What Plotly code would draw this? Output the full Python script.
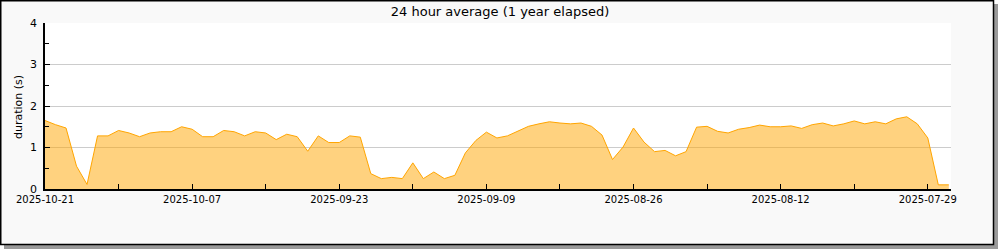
import pandas as pd
import plotly.graph_objects as go

# ---- data -------------------------------------------------------------
start_date = "2025-10-21"
n_days = 87
dates = pd.date_range(end=start_date, periods=n_days, freq="D")[::-1]  # 2025-10-21 back to 2025-07-27

durations = [
    1.65, 1.55, 1.47, 0.55, 0.11, 1.28, 1.28, 1.41, 1.35, 1.26,
    1.35, 1.38, 1.38, 1.50, 1.44, 1.26, 1.26, 1.41, 1.38, 1.28,
    1.38, 1.35, 1.19, 1.32, 1.26, 0.91, 1.28, 1.12, 1.12, 1.28,
    1.25, 0.37, 0.25, 0.28, 0.25, 0.63, 0.25, 0.41, 0.25, 0.33,
    0.87, 1.17, 1.37, 1.23, 1.28, 1.39, 1.51, 1.57, 1.62, 1.59,
    1.57, 1.59, 1.51, 1.30, 0.71, 1.01, 1.47, 1.13, 0.90, 0.93,
    0.80, 0.90, 1.49, 1.51, 1.39, 1.35, 1.44, 1.48, 1.54, 1.50,
    1.50, 1.52, 1.46, 1.55, 1.59, 1.52, 1.57, 1.64, 1.57, 1.62,
    1.57, 1.69, 1.74, 1.57, 1.23, 0.10, 0.10,
]

title_text = "24 hour average (1 year elapsed)"
y_title = "duration (s)"
x_range = ["2025-10-21", "2025-07-26 19:00"]
y_ticks = [0, 1, 2, 3, 4]

# ---- layout geometry ---------------------------------------------------
W, H = 1000, 250
ML, MR, MT, MB = 45, 49, 23, 61
PW, PH = W - ML - MR, H - MT - MB


def px(x):
    return (x - ML) / PW


def py(y):
    return (H - MB - y) / PH


FONT = "DejaVu Sans, Verdana, sans-serif"
DAY_MS = 86400000

fig = go.Figure()
fig.add_trace(go.Scatter(
    x=dates, y=durations, mode="lines",
    line=dict(color="#ffa500", width=1),
    fill="tozeroy", fillcolor="rgba(255,165,0,0.5)",
    hoverinfo="x+y", showlegend=False,
))

shapes = [
    # white outside area (right and bottom)
    dict(type="rect", xref="paper", yref="paper", x0=px(994), x1=px(1001), y0=py(-1), y1=py(251),
         fillcolor="white", line=dict(width=0), layer="above"),
    dict(type="rect", xref="paper", yref="paper", x0=px(-1), x1=px(1001), y0=py(245), y1=py(251),
         fillcolor="white", line=dict(width=0), layer="above"),
    # shadow
    dict(type="rect", xref="paper", yref="paper", x0=px(994), x1=px(998), y0=py(4), y1=py(249),
         fillcolor="#9a9a9a", line=dict(width=0), layer="above"),
    dict(type="rect", xref="paper", yref="paper", x0=px(4), x1=px(998), y0=py(245), y1=py(249),
         fillcolor="#9a9a9a", line=dict(width=0), layer="above"),
    # frame
    dict(type="rect", xref="paper", yref="paper", x0=px(0.75), x1=px(993.5), y0=py(0.75), y1=py(244.5),
         fillcolor="rgba(0,0,0,0)", line=dict(color="black", width=1.5), layer="above"),
]

fig.update_layout(
    width=W, height=H,
    margin=dict(l=ML, r=MR, t=MT, b=MB, pad=0),
    paper_bgcolor="#f9f9f9",
    plot_bgcolor="white",
    font=dict(family=FONT, size=10, color="#000000"),
    title=dict(text=title_text, x=0.5, xref="container", xanchor="center",
               y=1 - 11 / H, yref="container", yanchor="middle",
               font=dict(family=FONT, size=13, color="#000000")),
    shapes=shapes,
    annotations=[dict(text=y_title, xref="paper", yref="paper", x=px(18), y=py(107),
                      textangle=-90, showarrow=False, xanchor="center", yanchor="middle",
                      font=dict(family=FONT, size=11, color="#000000"))],
    showlegend=False,
)

fig.update_xaxes(
    type="date", range=x_range, autorange=False,
    tick0=start_date, dtick=14 * DAY_MS, tickformat="%Y-%m-%d",
    ticks="inside", ticklen=5, tickwidth=1, tickcolor="black",
    showline=True, linecolor="black", linewidth=1.5,
    showgrid=False, zeroline=False,
    minor=dict(dtick=7 * DAY_MS, tick0=start_date, ticks="inside", ticklen=5,
               tickcolor="black", showgrid=False),
    tickfont=dict(family=FONT, size=10, color="#000000"),
)
fig.update_yaxes(
    range=[0, 4], tickvals=y_ticks,
    ticks="inside", ticklen=5, tickwidth=1, tickcolor="black",
    showline=True, linecolor="black", linewidth=1.5,
    showgrid=True, gridcolor="#cccccc", gridwidth=1, zeroline=False,
    minor=dict(dtick=0.5, ticks="inside", ticklen=4, tickcolor="black", showgrid=False),
    tickfont=dict(family=FONT, size=11, color="#000000"),
    ticklabelstandoff=4,
)

fig.write_html("out.html")
